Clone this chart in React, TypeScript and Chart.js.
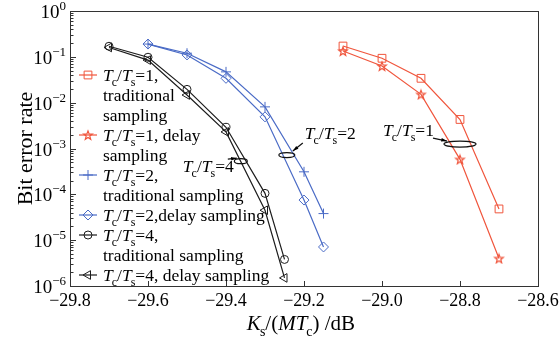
import React, { useEffect, useRef } from 'react';
import { Chart, registerables } from 'chart.js';
import { drawPoint } from 'chart.js/helpers';

Chart.register(...registerables);

// ---------- data ----------
const xRed = [-29.1, -29.0, -28.9, -28.8, -28.7];
const berRedTrad = [0.172, 0.093, 0.034, 0.0043, 4.8e-5];
const berRedDelay = [0.134, 0.063, 0.0152, 5.8e-4, 4.0e-6];

const xBlue = [-29.6, -29.5, -29.4, -29.3, -29.2, -29.15];
const berBlueTrad = [0.19, 0.12, 0.047, 0.0081, 3.1e-4, 3.8e-5];
const berBlueDelay = [0.19, 0.11, 0.034, 0.0049, 7.5e-5, 7.1e-6];

const xBlack = [-29.7, -29.6, -29.5, -29.4, -29.3, -29.25];
const berBlackTrad = [0.17, 0.098, 0.0195, 0.0029, 1.05e-4, 3.8e-6];
const berBlackDelay = [0.16, 0.085, 0.0147, 0.0023, 4.5e-5, 1.5e-6];

const xTickValues = [-29.8, -29.6, -29.4, -29.2, -29.0, -28.8, -28.6];
const xTickLabels = ['−29.8', '−29.6', '−29.4', '−29.2', '−29.0', '−28.8', '−28.6'];
const yTickExponents = [0, -1, -2, -3, -4, -5, -6];

// annotation: ellipse centre in data units, ratio label
const annoRatios = ['1', '2', '4'];
const annoX = [-28.8, -29.244, -29.362];
const annoY = [1.25e-3, 7.2e-4, 5.3e-4];

const FONT = '"Liberation Serif", "DejaVu Serif", serif';
const RED = '#f0553c';
const BLUE = '#4a6bc6';
const BLACK = '#1c1c1c';

type Part = { t: string; it?: boolean; sub?: boolean; sup?: boolean };

function tcts(rest: string): Part[] {
  return [
    { t: 'T', it: true },
    { t: 'c', sub: true },
    { t: '/' },
    { t: 'T', it: true },
    { t: 's', sub: true },
    { t: rest },
  ];
}

function drawRich(ctx: CanvasRenderingContext2D, parts: Part[], x: number, y: number, size: number, align = 'left') {
  const small = Math.round(size * 0.68);
  const fontFor = (p: Part) => `${p.it ? 'italic ' : 'normal '}${p.sub || p.sup ? small : size}px ${FONT}`;
  let w = 0;
  parts.forEach((p) => {
    ctx.font = fontFor(p);
    w += ctx.measureText(p.t).width + (p.sub ? -1 : 0);
  });
  let cx = align === 'center' ? x - w / 2 : align === 'right' ? x - w : x;
  ctx.textAlign = 'left';
  ctx.textBaseline = 'alphabetic';
  parts.forEach((p) => {
    ctx.font = fontFor(p);
    if (p.sub) cx -= 1;
    const dy = p.sub ? size * 0.3 : p.sup ? -size * 0.42 : 0;
    ctx.fillText(p.t, cx, y + dy);
    cx += ctx.measureText(p.t).width;
  });
  return w;
}

function makeStar(color: string) {
  const c = document.createElement('canvas');
  c.width = 12;
  c.height = 12;
  const g = c.getContext('2d')!;
  g.beginPath();
  for (let i = 0; i < 10; i++) {
    const r = i % 2 === 0 ? 4.6 : 1.9;
    const a = -Math.PI / 2 + (i * Math.PI) / 5;
    const px = 6 + r * Math.cos(a);
    const py = 6.5 + r * Math.sin(a);
    if (i === 0) g.moveTo(px, py);
    else g.lineTo(px, py);
  }
  g.closePath();
  g.strokeStyle = color;
  g.lineWidth = 1.2;
  g.stroke();
  return c;
}

type SeriesDef = {
  xs: number[];
  ys: number[];
  color: string;
  style: any;
  radius: number;
  rotation?: number;
  legend: Part[][];
};

export default function App() {
  const ref = useRef<HTMLCanvasElement>(null);

  useEffect(() => {
    let chart: any = null;
    let cancelled = false;
    const star = makeStar(RED);
    const series: SeriesDef[] = [
      { xs: xRed, ys: berRedTrad, color: RED, style: 'rect', radius: 5.5, legend: [tcts('=1,'), [{ t: 'traditional' }], [{ t: 'sampling' }]] },
      { xs: xRed, ys: berRedDelay, color: RED, style: star, radius: 5, legend: [tcts('=1, delay'), [{ t: 'sampling' }]] },
      { xs: xBlue, ys: berBlueTrad, color: BLUE, style: 'cross', radius: 5, legend: [tcts('=2,'), [{ t: 'traditional sampling' }]] },
      { xs: xBlue, ys: berBlueDelay, color: BLUE, style: 'rectRot', radius: 5, legend: [tcts('=2,delay sampling')] },
      { xs: xBlack, ys: berBlackTrad, color: BLACK, style: 'circle', radius: 4, legend: [tcts('=4,'), [{ t: 'traditional sampling' }]] },
      { xs: xBlack, ys: berBlackDelay, color: BLACK, style: 'triangle', radius: 5, rotation: -90, legend: [tcts('=4, delay sampling')] },
    ];

    const overlay = {
      id: 'overlay',
      afterDraw(ch: any) {
        const { ctx, chartArea: a, scales } = ch;
        const xs = scales.x;
        const ys = scales.y;
        ctx.save();
        ctx.strokeStyle = '#333';
        ctx.lineWidth = 1;
        ctx.strokeRect(Math.round(a.left) + 0.5, Math.round(a.top) + 0.5, Math.round(a.right - a.left), Math.round(a.bottom - a.top));

        ctx.fillStyle = '#000';
        xTickValues.forEach((v, i) => {
          const px = Math.round(xs.getPixelForValue(v)) + 0.5;
          ctx.beginPath();
          ctx.moveTo(px, a.bottom);
          ctx.lineTo(px, a.bottom - 5);
          ctx.stroke();
          ctx.font = `normal 18px ${FONT}`;
          ctx.textAlign = 'center';
          ctx.textBaseline = 'alphabetic';
          ctx.fillText(xTickLabels[i], xs.getPixelForValue(v), a.bottom + 20);
        });

        yTickExponents.forEach((e) => {
          const py = Math.round(ys.getPixelForValue(Math.pow(10, e))) + 0.5;
          ctx.beginPath();
          ctx.moveTo(a.left, py);
          ctx.lineTo(a.left + 6, py);
          ctx.stroke();
          if (e < 0) {
            for (let m = 2; m <= 9; m++) {
              const my = Math.round(ys.getPixelForValue(m * Math.pow(10, e))) + 0.5;
              ctx.beginPath();
              ctx.moveTo(a.left, my);
              ctx.lineTo(a.left + 3.5, my);
              ctx.stroke();
            }
          }
          const label: Part[] = [{ t: '10' }, { t: e === 0 ? '0' : '−' + Math.abs(e), sup: true }];
          drawRich(ctx, label, a.left - 4, py + 6, 19, 'right');
        });

        ctx.save();
        ctx.translate(32, (a.top + a.bottom) / 2);
        ctx.rotate(-Math.PI / 2);
        ctx.font = `normal 22px ${FONT}`;
        ctx.textAlign = 'center';
        ctx.textBaseline = 'alphabetic';
        ctx.fillText('Bit error rate', 0, 0);
        ctx.restore();

        drawRich(
          ctx,
          [{ t: 'K', it: true }, { t: 's', sub: true }, { t: '/(' }, { t: 'MT', it: true }, { t: 'c', sub: true }, { t: ') /dB' }],
          (a.left + a.right) / 2 - 3,
          a.bottom + 44,
          21,
          'center'
        );

        let line = 0;
        const lx0 = a.left + 9;
        const lx1 = a.left + 27;
        const ly0 = a.top + 64;
        series.forEach((s) => {
          const cy = ly0 + line * 20;
          ctx.strokeStyle = s.color;
          ctx.lineWidth = 1.2;
          ctx.beginPath();
          ctx.moveTo(lx0, cy);
          ctx.lineTo(lx1, cy);
          ctx.stroke();
          ctx.lineWidth = 1;
          ctx.fillStyle = 'rgba(255,255,255,0)';
          drawPoint(ctx, { pointStyle: s.style, radius: s.radius, rotation: s.rotation || 0, borderWidth: 1 } as any, (lx0 + lx1) / 2, cy);
          ctx.fillStyle = '#000';
          s.legend.forEach((parts) => {
            const y = ly0 + line * 20;
            drawRich(ctx, parts, a.left + 33, y + 6, 17.5, 'left');
            line++;
          });
        });

        ctx.strokeStyle = '#111';
        ctx.fillStyle = '#000';
        ctx.lineWidth = 1.2;
        const drawArrow = (x0: number, y0: number, x1: number, y1: number) => {
          ctx.beginPath();
          ctx.moveTo(x0, y0);
          ctx.lineTo(x1, y1);
          ctx.stroke();
          const ang = Math.atan2(y1 - y0, x1 - x0);
          ctx.beginPath();
          ctx.moveTo(x1, y1);
          ctx.lineTo(x1 - 6 * Math.cos(ang - 0.3), y1 - 6 * Math.sin(ang - 0.3));
          ctx.lineTo(x1 - 6 * Math.cos(ang + 0.3), y1 - 6 * Math.sin(ang + 0.3));
          ctx.closePath();
          ctx.fill();
        };
        const rx = [16, 8, 6.5];
        const ry = [3, 2.5, 2.5];
        annoRatios.forEach((r, i) => {
          const cx = xs.getPixelForValue(annoX[i]);
          const cy = ys.getPixelForValue(annoY[i]);
          ctx.beginPath();
          ctx.ellipse(cx, cy, rx[i], ry[i], 0, 0, Math.PI * 2);
          ctx.stroke();
          if (i === 0) {
            drawArrow(cx - 27, cy - 6, cx - 13, cy - 3);
            drawRich(ctx, tcts('=' + r), cx - 77, cy - 8, 17.5, 'left');
          } else if (i === 1) {
            drawArrow(cx + 16, cy - 12, cx + 6, cy - 4);
            drawRich(ctx, tcts('=' + r), cx + 18, cy - 16, 17.5, 'left');
          } else {
            drawArrow(cx - 13, cy - 2, cx - 4, cy - 3);
            drawRich(ctx, tcts('=' + r), cx - 58, cy + 11, 17.5, 'left');
          }
        });

        ctx.restore();
      },
    };

    const build = () => {
      if (cancelled || !ref.current) return;
      chart = new Chart(ref.current, {
        type: 'line',
        data: {
          datasets: series.map((s) => ({
            data: s.xs.map((x, i) => ({ x, y: s.ys[i] })),
            borderColor: s.color,
            backgroundColor: 'rgba(255,255,255,0)',
            borderWidth: 1.2,
            pointStyle: s.style,
            pointRadius: s.radius,
            pointRotation: s.rotation || 0,
            pointBorderColor: s.color,
            pointBackgroundColor: 'rgba(255,255,255,0)',
            pointBorderWidth: 1,
            tension: 0,
            fill: false,
          })),
        },
        options: {
          responsive: false,
          animation: false,
          devicePixelRatio: 1,
          layout: { padding: { left: 0, top: 11, right: 22, bottom: 0 } },
          plugins: { legend: { display: false }, tooltip: { enabled: false } },
          scales: {
            x: {
              type: 'linear',
              min: -29.8,
              max: -28.6,
              grid: { display: false },
              border: { display: false },
              ticks: { display: false },
              afterFit: (s: any) => {
                s.height = 53;
              },
            },
            y: {
              type: 'logarithmic',
              min: 1e-6,
              max: 1,
              grid: { display: false },
              border: { display: false },
              ticks: { display: false },
              afterFit: (s: any) => {
                s.width = 70;
              },
            },
          },
        },
        plugins: [overlay],
      } as any);
    };

    const fontsApi: any = (document as any).fonts;
    if (fontsApi && fontsApi.load) {
      Promise.all([
        fontsApi.load('18px "Liberation Serif"'),
        fontsApi.load('italic 18px "Liberation Serif"'),
      ])
        .catch(() => null)
        .then(build);
    } else {
      build();
    }

    return () => {
      cancelled = true;
      if (chart) chart.destroy();
    };
  }, []);

  return (
    <div style={{ position: 'fixed', left: 0, top: 0, width: 560, height: 339, background: '#fff' }}>
      <span style={{ fontFamily: '"Liberation Serif"', position: 'absolute', left: -1000, top: 0 }}>
        a<i>b</i>
      </span>
      <canvas ref={ref} width={560} height={339} style={{ position: 'absolute', left: 0, top: 0 }} />
    </div>
  );
}
